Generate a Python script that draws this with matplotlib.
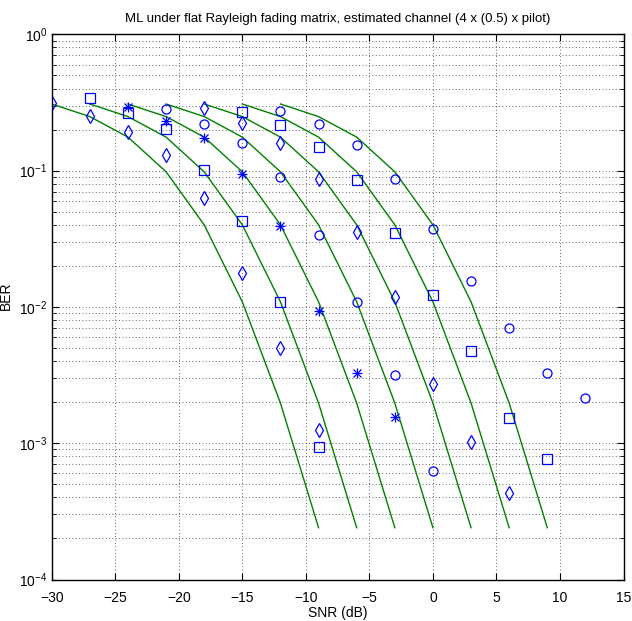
import matplotlib
matplotlib.use("Agg")
import matplotlib.pyplot as plt
from matplotlib.ticker import LogLocator, NullFormatter, MultipleLocator

plt.rcParams['font.family'] = ['Liberation Sans', 'DejaVu Sans']
plt.rcParams['mathtext.fontset'] = 'custom'
plt.rcParams['mathtext.rm'] = 'Liberation Sans'
plt.rcParams['mathtext.it'] = 'Liberation Sans:italic'
plt.rcParams['mathtext.bf'] = 'Liberation Sans:bold'

# theoretical curves (green), one per antenna/pilot setting
curve_snr = [
    [-30, -27, -24, -21, -18, -15, -12, -9],
    [-27, -24, -21, -18, -15, -12, -9, -6],
    [-24, -21, -18, -15, -12, -9, -6, -3],
    [-21, -18, -15, -12, -9, -6, -3, 0],
    [-18, -15, -12, -9, -6, -3, 0, 3],
    [-15, -12, -9, -6, -3, 0, 3, 6],
    [-12, -9, -6, -3, 0, 3, 6, 9],
]
curve_ber = [
    [0.308, 0.249, 0.176, 0.098, 0.040, 0.0109, 0.00197, 2.4e-4],
    [0.308, 0.249, 0.176, 0.098, 0.040, 0.0109, 0.00197, 2.4e-4],
    [0.308, 0.249, 0.176, 0.098, 0.040, 0.0109, 0.00197, 2.4e-4],
    [0.308, 0.249, 0.176, 0.098, 0.040, 0.0109, 0.00197, 2.4e-4],
    [0.308, 0.249, 0.176, 0.098, 0.040, 0.0109, 0.00197, 2.4e-4],
    [0.308, 0.249, 0.176, 0.098, 0.040, 0.0109, 0.00197, 2.4e-4],
    [0.308, 0.249, 0.176, 0.098, 0.040, 0.0109, 0.00197, 2.4e-4],
]

# simulated points (blue markers)
sim_snr = [
    [-30, -27, -24, -21, -18, -15, -12, -9],
    [-27, -24, -21, -18, -15, -12, -9],
    [-24, -21, -18, -15, -12, -9, -6, -3],
    [-21, -18, -15, -12, -9, -6, -3, 0],
    [-18, -15, -12, -9, -6, -3, 0, 3, 6],
    [-15, -12, -9, -6, -3, 0, 3, 6, 9],
    [-12, -9, -6, -3, 0, 3, 6, 9, 12],
]
sim_ber = [
    [0.313, 0.253, 0.191, 0.130, 0.0626, 0.0178, 0.00497, 0.00124],
    [0.339, 0.266, 0.201, 0.101, 0.0427, 0.0108, 9.33e-4],
    [0.294, 0.232, 0.1726, 0.0944, 0.0394, 0.00933, 0.00326, 0.00156],
    [0.282, 0.220, 0.160, 0.0902, 0.0337, 0.0108, 0.00316, 6.25e-4],
    [0.286, 0.2246, 0.1586, 0.0863, 0.0354, 0.01176, 0.0027, 0.001015, 4.29e-4],
    [0.2705, 0.216, 0.148, 0.0853, 0.0347, 0.01223, 0.00477, 0.00154, 7.62e-4],
    [0.275, 0.220, 0.154, 0.0863, 0.0373, 0.01556, 0.0070, 0.00327, 0.00216],
]
sim_markers = ['d', 's', '*', 'o', 'd', 's', 'o']

fig = plt.figure(figsize=(6.32, 6.21), dpi=100)
ax = fig.add_axes([0.0818, 0.0668, 0.9048, 0.878])

for x, y in zip(curve_snr, curve_ber):
    ax.semilogy(x, y, color=(0, 0.5, 0), linewidth=1.0)

for x, y, m in zip(sim_snr, sim_ber, sim_markers):
    if m == '*':
        # matlab style asterisk: plus + cross
        for mm, sz in (('+', 7), ('x', 5.5)):
            ax.semilogy(x, y, linestyle='none', marker=mm, markersize=sz,
                        markeredgecolor='blue', markeredgewidth=0.9)
    else:
        ms = 7.5 if m == 'd' else 6.5
        ax.semilogy(x, y, linestyle='none', marker=m, markersize=ms,
                    markerfacecolor='none', markeredgecolor='blue',
                    markeredgewidth=0.9)

ax.set_xlim(-30, 15)
ax.set_ylim(1e-4, 1)
ax.xaxis.set_major_locator(MultipleLocator(5))
ax.yaxis.set_major_locator(LogLocator(base=10, numticks=10))
ax.yaxis.set_minor_locator(LogLocator(base=10, subs=range(2, 10), numticks=50))
ax.yaxis.set_minor_formatter(NullFormatter())

ax.grid(True, which='major', linestyle=(0, (1, 3)), color='#333333', linewidth=0.6)
ax.grid(True, which='minor', axis='y', linestyle=(0, (1, 3)), color='#333333', linewidth=0.6)

ax.tick_params(which='both', direction='in', top=True, right=True, labelsize=10)
ax.tick_params(which='major', length=5)
ax.tick_params(which='minor', length=3)
ax.tick_params(axis='x', pad=8)
ax.tick_params(axis='y', pad=3)
for s in ax.spines.values():
    s.set_linewidth(1.0)

ax.set_xlabel('SNR (dB)', fontsize=10, labelpad=1)
ax.set_ylabel('BER', fontsize=10)
ax.yaxis.set_label_coords(-0.068, 0.52)
ax.set_title('ML under flat Rayleigh fading matrix, estimated channel (4 x (0.5) x pilot)',
             fontsize=9.5, pad=9)

fig.savefig('out.png', dpi=100)
